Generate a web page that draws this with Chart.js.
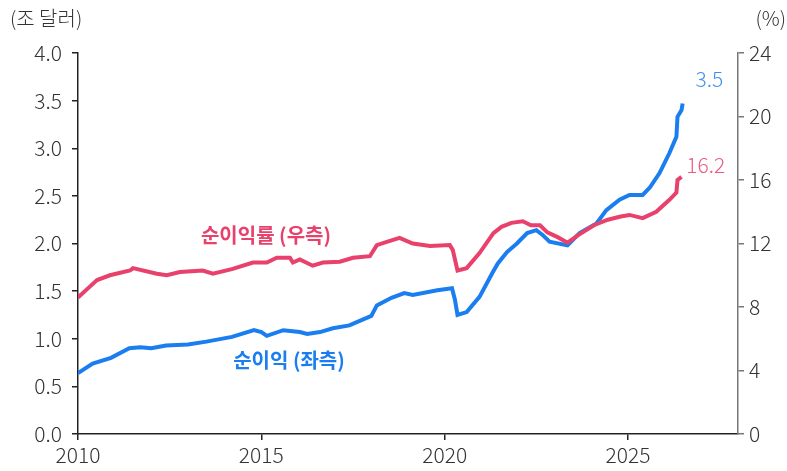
<!DOCTYPE html>
<html>
<head>
<meta charset="utf-8">
<script src="https://cdn.jsdelivr.net/npm/chart.js@4"></script>
<style>
  body { margin: 0; background: #fff; }
  #wrap { width: 787px; height: 471px; }
</style>
</head>
<body>
<div id="wrap"><canvas id="graphique"></canvas></div>
<script>
// 순이익 (조 달러, 좌측)
const anneesNet = [2010.0, 2010.4, 2010.9, 2011.4, 2011.7, 2012.0, 2012.4, 2013.0, 2013.5, 2014.2, 2014.8, 2015.0, 2015.15, 2015.6, 2016.05, 2016.25, 2016.6, 2016.95, 2017.4, 2018.0, 2018.15, 2018.55, 2018.9, 2019.13, 2019.8, 2020.2, 2020.28, 2020.35, 2020.6, 2020.95, 2021.3, 2021.45, 2021.7, 2021.97, 2022.25, 2022.5, 2022.67, 2022.86, 2023.35, 2023.68, 2024.14, 2024.41, 2024.77, 2025.04, 2025.4, 2025.6, 2025.86, 2026.13, 2026.32, 2026.35, 2026.46, 2026.49];
const valeursNet = [0.64, 0.74, 0.80, 0.90, 0.91, 0.90, 0.93, 0.94, 0.97, 1.02, 1.09, 1.07, 1.03, 1.09, 1.07, 1.05, 1.07, 1.11, 1.14, 1.24, 1.35, 1.43, 1.48, 1.46, 1.51, 1.53, 1.41, 1.25, 1.28, 1.44, 1.69, 1.79, 1.91, 2.00, 2.11, 2.14, 2.09, 2.02, 1.98, 2.11, 2.21, 2.35, 2.46, 2.51, 2.51, 2.59, 2.74, 2.95, 3.12, 3.33, 3.40, 3.47];

// 순이익률 (%, 우측)
const anneesMarge = [2010.0, 2010.33, 2010.52, 2010.87, 2011.42, 2011.5, 2012.15, 2012.42, 2012.78, 2013.4, 2013.68, 2014.22, 2014.77, 2015.15, 2015.42, 2015.78, 2015.86, 2016.05, 2016.4, 2016.68, 2017.14, 2017.5, 2017.96, 2018.15, 2018.42, 2018.77, 2019.13, 2019.6, 2020.14, 2020.22, 2020.35, 2020.6, 2020.95, 2021.33, 2021.55, 2021.82, 2022.13, 2022.35, 2022.6, 2022.8, 2023.08, 2023.35, 2023.62, 2024.07, 2024.45, 2024.8, 2025.04, 2025.4, 2025.77, 2026.13, 2026.32, 2026.35, 2026.46];
const valeursMarge = [8.6, 9.3, 9.7, 10.0, 10.3, 10.45, 10.1, 10.0, 10.2, 10.3, 10.1, 10.4, 10.8, 10.8, 11.1, 11.1, 10.8, 11.0, 10.6, 10.8, 10.85, 11.1, 11.2, 11.9, 12.1, 12.35, 12.0, 11.85, 11.9, 11.6, 10.3, 10.45, 11.4, 12.65, 13.05, 13.3, 13.4, 13.15, 13.15, 12.7, 12.4, 12.05, 12.5, 13.15, 13.5, 13.7, 13.8, 13.6, 14.0, 14.75, 15.2, 16.0, 16.2];

const ticksX = [2010, 2015, 2020, 2025];
const labelNet = "순이익 (좌측)";
const labelMarge = "순이익률 (우측)";
const dernierNet = "3.5";
const dernierMarge = "16.2";

const bleu = "#1a7ef0";
const rose = "#e8416c";
const police = "'Noto Sans CJK KR', 'Noto Sans', sans-serif";

const pointsNet = anneesNet.map((a, i) => ({ x: a, y: valeursNet[i] }));
const pointsMarge = anneesMarge.map((a, i) => ({ x: a, y: valeursMarge[i] }));

// textes : unités, étiquettes des séries et dernières valeurs
const textes = {
    id: "textes",
    afterDraw(chart) {
        const ctx = chart.ctx;
        const sx = chart.scales.x, yg = chart.scales.yGauche, yd = chart.scales.yDroite;
        ctx.save();
        ctx.textBaseline = "middle";
        ctx.fillStyle = "#333";
        ctx.font = "300 20px " + police;
        ctx.textAlign = "left";
        ctx.fillText("(조 달러)", 10, 18);
        ctx.textAlign = "right";
        ctx.fillText("(%)", 786, 18);

        ctx.font = "600 20px " + police;
        ctx.textAlign = "center";
        ctx.fillStyle = rose;
        ctx.fillText(labelMarge, 266, 235);
        ctx.fillStyle = bleu;
        ctx.fillText(labelNet, 289, 360);

        ctx.font = "300 21px " + police;
        ctx.textAlign = "right";
        ctx.fillStyle = "#3d8ff0";
        ctx.fillText(dernierNet, sx.getPixelForValue(2027.6), yg.getPixelForValue(3.73));
        ctx.fillStyle = "#ea5a80";
        ctx.fillText(dernierMarge, sx.getPixelForValue(2027.65), yd.getPixelForValue(16.95));
        ctx.restore();
    }
};

new Chart(document.querySelector("#graphique"), {
    type: "line",
    data: {
        datasets: [
            { label: labelMarge, data: pointsMarge, yAxisID: "yDroite", borderColor: rose, borderWidth: 4, pointRadius: 0, tension: 0 },
            { label: labelNet, data: pointsNet, yAxisID: "yGauche", borderColor: bleu, borderWidth: 4, pointRadius: 0, tension: 0 }
        ]
    },
    options: {
        responsive: true,
        maintainAspectRatio: false,
        animation: false,
        layout: { padding: { top: 53, left: 0, right: 0, bottom: 0 } },
        plugins: { legend: { display: false }, tooltip: { enabled: false } },
        scales: {
            x: {
                type: "linear",
                min: 2010,
                max: 2028,
                afterBuildTicks: axe => { axe.ticks = ticksX.map(v => ({ value: v })); },
                afterFit: axe => { axe.height = 37; },
                border: { color: "#222", width: 1.5 },
                grid: { drawOnChartArea: false, tickLength: 6, color: "#222", lineWidth: 1.5 },
                ticks: { color: "#333", padding: 2, maxRotation: 0, font: { family: police, size: 21, weight: 300 }, callback: v => String(v) }
            },
            yGauche: {
                position: "left",
                min: 0,
                max: 4,
                afterFit: axe => { axe.width = 78; },
                border: { color: "#222", width: 1.5 },
                grid: { drawOnChartArea: false, tickLength: 6, color: "#222", lineWidth: 1.5 },
                ticks: { stepSize: 0.5, color: "#333", padding: 10, font: { family: police, size: 21, weight: 300 }, callback: v => v.toFixed(1) }
            },
            yDroite: {
                position: "right",
                min: 0,
                max: 24,
                afterFit: axe => { axe.width = 49; },
                border: { color: "#777", width: 1.5 },
                grid: { drawOnChartArea: false, tickLength: 6, color: "#777", lineWidth: 1.5 },
                ticks: { stepSize: 4, color: "#333", padding: 5, font: { family: police, size: 21, weight: 300 } }
            }
        }
    },
    plugins: [textes]
});
</script>
</body>
</html>
